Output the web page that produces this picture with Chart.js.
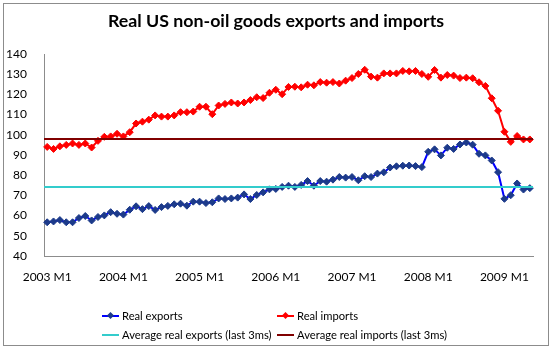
<!DOCTYPE html>
<html>
<head>
<meta charset="utf-8">
<script src="https://cdn.jsdelivr.net/npm/chart.js@4.4.1/dist/chart.umd.min.js"></script>
<style>
  body { margin: 0; background: #fff; }
  #wrap { position: relative; width: 552px; height: 348px; }
  #frame { position: absolute; left: 3px; top: 3px; width: 544px; height: 341px; border: 1px solid #8c8c8c; pointer-events: none; }
  #titulo { position: absolute; left: 0; top: 10px; width: 552px; text-align: center; font: bold 17.8px Lato, sans-serif; line-height: 21px; color: #000; }
  .leg { position: absolute; height: 14px; font: 11.2px Lato, sans-serif; color: #000; white-space: nowrap; line-height: 14px; }
  .simbolo { position: absolute; left: 0; top: 6px; width: 17px; height: 2px; }
  .diamante { position: absolute; left: 6px; top: 4px; width: 5px; height: 5px; transform: rotate(45deg); }
  .texto { position: absolute; left: 20px; top: 0; }
</style>
</head>
<body>
<div id="wrap">
  <canvas id="grafico" width="552" height="348"></canvas>
  <div id="titulo">Real US non-oil goods exports and imports</div>
  <div id="legenda"></div>
  <div id="frame"></div>
</div>
<script>
// === Dados (2003 M1 .. 2009 M5) ===
const anoInicial = 2003;
const meses = [];
for (let i = 0; i < 77; i++) {
    meses.push((anoInicial + Math.floor(i / 12)) + " M" + (i % 12 + 1));
}

const exportacoes = [
    56.7, 57.1, 57.8, 56.7, 56.7, 58.8, 59.8, 57.6, 59.3, 60.1, 61.7, 60.9,
    60.5, 62.9, 64.6, 63.2, 64.7, 62.8, 64.2, 64.8, 65.6, 65.9, 64.9, 66.9,
    66.9, 66.2, 66.6, 68.5, 68.2, 68.5, 68.9, 70.5, 68.2, 70.2, 71.5, 73.0,
    73.2, 74.2, 74.8, 74.2, 75.2, 77.1, 74.8, 77.1, 76.8, 77.8, 79.1, 78.8,
    79.1, 77.5, 79.5, 79.1, 80.8, 81.4, 83.8, 84.4, 84.7, 84.8, 84.5, 84.0,
    91.6, 92.8, 89.8, 93.6, 93.0, 95.2, 96.2, 95.1, 90.6, 89.8, 87.3, 81.5,
    68.3, 70.1, 75.9, 72.9, 73.6
];

const importacoes = [
    94.0, 93.0, 94.3, 95.0, 95.7, 95.0, 95.7, 93.7, 97.0, 99.0, 99.2, 100.5,
    99.2, 101.3, 105.6, 106.5, 107.5, 109.6, 109.0, 109.0, 109.6, 111.2, 111.2, 111.5,
    113.9, 113.9, 110.2, 114.5, 115.3, 116.0, 115.5, 116.0, 117.2, 118.6, 118.2, 120.8,
    122.3, 120.1, 123.7, 123.8, 123.5, 124.8, 124.5, 126.1, 125.8, 126.1, 125.4, 126.8,
    128.1, 130.1, 132.2, 128.8, 128.3, 130.4, 130.4, 130.4, 131.6, 131.4, 131.6, 130.1,
    128.7, 132.1, 128.3, 129.6, 129.3, 128.1, 128.3, 128.0, 126.0, 124.2, 118.1, 111.9,
    101.5, 96.5, 99.4, 97.7, 97.7
];

const mediaExportacoes = 74.1;
const mediaImportacoes = 97.8;

const rotulosEixoY = [40, 140];

// === Cores ===
const corExport = "#0000ff";
const corMarcadorExport = "#1c3a8a";
const corImport = "#ff0000";
const corMediaExport = "#33cccc";
const corMediaImport = "#800000";
const corEixo = "#8c8c8c";

// === Linhas de média (desenhadas pela escala y) ===
const linhasMedia = {
    id: "linhasMedia",
    afterDatasetsDraw(chart) {
        const { ctx, chartArea, scales } = chart;
        [[mediaExportacoes, corMediaExport], [mediaImportacoes, corMediaImport]].forEach(([valor, cor]) => {
            const y = Math.round(scales.y.getPixelForValue(valor));
            ctx.save();
            ctx.strokeStyle = cor;
            ctx.lineWidth = 2;
            ctx.beginPath();
            ctx.moveTo(chartArea.left, y);
            ctx.lineTo(chartArea.right, y);
            ctx.stroke();
            ctx.restore();
        });
    }
};

// === Gráfico ===
const fonte = { family: "Lato, sans-serif", size: 12 };

new Chart(document.getElementById("grafico").getContext("2d"), {
    type: "line",
    data: {
        labels: meses,
        datasets: [
            {
                label: "Real exports",
                data: exportacoes,
                borderColor: corExport,
                borderWidth: 2,
                pointStyle: "rectRot",
                pointRadius: 3.5,
                pointBackgroundColor: corMarcadorExport,
                pointBorderColor: corMarcadorExport,
                pointBorderWidth: 1,
                tension: 0,
                fill: false
            },
            {
                label: "Real imports",
                data: importacoes,
                borderColor: corImport,
                borderWidth: 2,
                pointStyle: "rectRot",
                pointRadius: 3.5,
                pointBackgroundColor: corImport,
                pointBorderColor: corImport,
                pointBorderWidth: 1,
                tension: 0,
                fill: false
            }
        ]
    },
    options: {
        responsive: false,
        animation: false,
        layout: { padding: { left: 0, right: 19, top: 54, bottom: 62 } },
        plugins: {
            legend: { display: false },
            tooltip: { enabled: false },
            title: { display: false }
        },
        scales: {
            x: {
                type: "category",
                offset: true,
                grid: { display: false },
                border: { display: true, color: corEixo, width: 1 },
                ticks: {
                    autoSkip: false,
                    maxRotation: 0,
                    padding: 6,
                    color: "#000",
                    font: fonte,
                    callback: (v, i) => (i % 12 === 0 ? meses[i] : "")
                },
                afterFit: s => { s.height = 30; }
            },
            y: {
                min: rotulosEixoY[0],
                max: rotulosEixoY[1],
                grid: { display: false },
                border: { display: true, color: corEixo, width: 1 },
                ticks: { stepSize: 10, padding: 9, color: "#000", font: fonte },
                afterFit: s => { s.width = 44; }
            }
        }
    },
    plugins: [linhasMedia]
});

// === Legenda ===
const itensLegenda = [
    { texto: "Real exports", cor: corExport, marcador: corMarcadorExport, x: 102, y: 309 },
    { texto: "Real imports", cor: corImport, marcador: corImport, x: 277, y: 309 },
    { texto: "Average real exports (last 3ms)", cor: corMediaExport, marcador: null, x: 102, y: 328 },
    { texto: "Average real imports (last 3ms)", cor: corMediaImport, marcador: null, x: 277, y: 328 }
];

document.getElementById("legenda").innerHTML = itensLegenda.map(it =>
    `<div class="leg" style="left:${it.x}px;top:${it.y}px">` +
    `<span class="simbolo" style="background:${it.cor}"></span>` +
    (it.marcador ? `<span class="diamante" style="background:${it.marcador}"></span>` : "") +
    `<span class="texto">${it.texto}</span></div>`
).join("");
</script>
</body>
</html>
